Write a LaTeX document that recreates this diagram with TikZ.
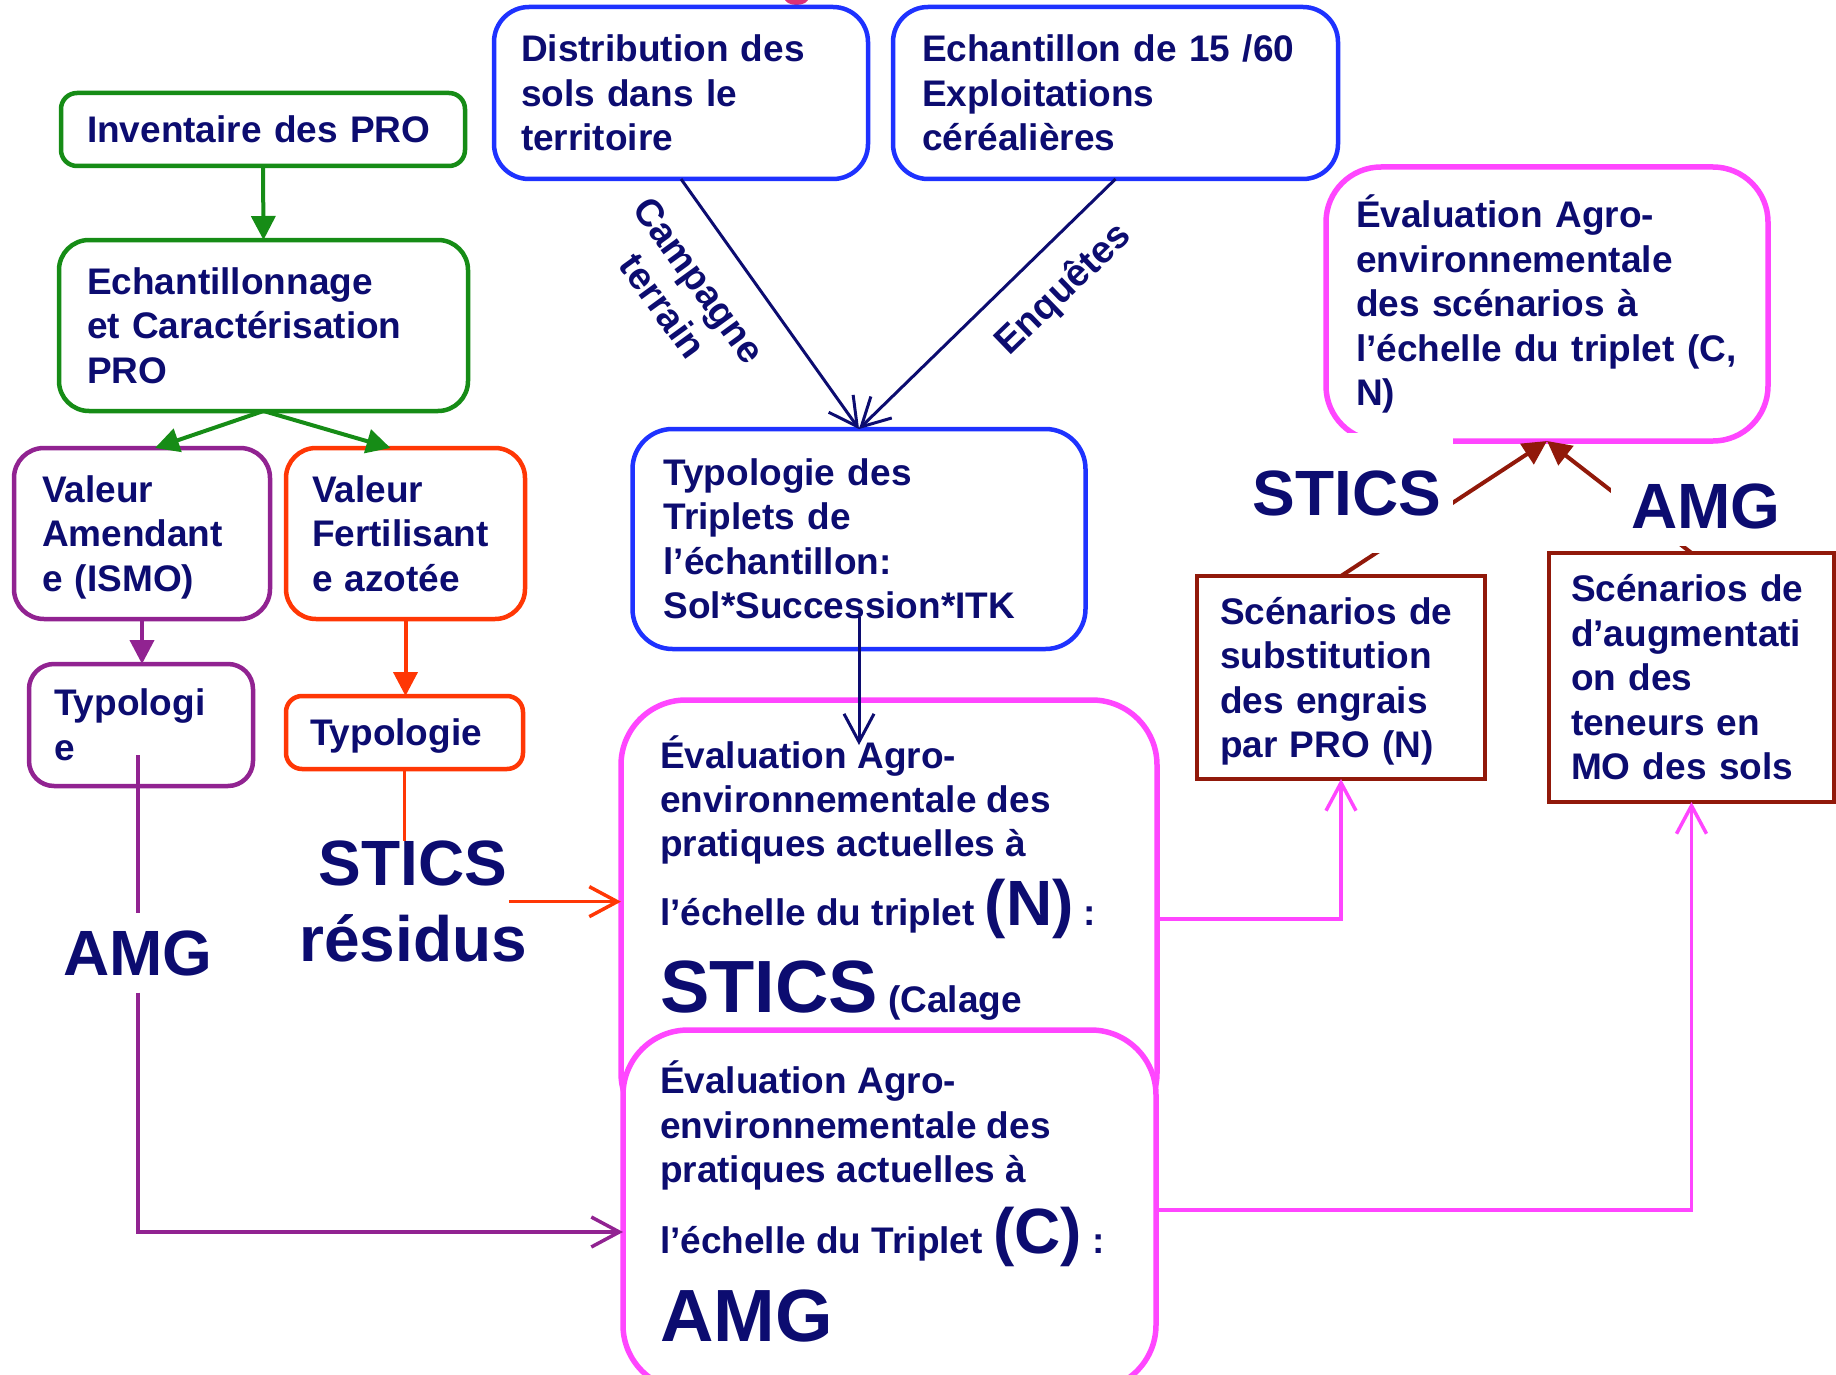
\documentclass[tikz,border=0pt]{standalone}
\usepackage{fontspec}
\setmainfont{Liberation Sans}
\usetikzlibrary{arrows.meta,calc}

\definecolor{navy}{RGB}{12,12,112}
\definecolor{pgreen}{RGB}{22,140,22}
\definecolor{ppurple}{RGB}{145,35,145}
\definecolor{pred}{RGB}{255,55,5}
\definecolor{pblue}{RGB}{30,50,255}
\definecolor{pmag}{RGB}{255,70,255}
\definecolor{pdred}{RGB}{145,25,10}
\definecolor{pdot}{RGB}{220,50,120}

\newcommand\bodyf{\fontsize{37}{44.5}\selectfont\bfseries}
\newcommand\labf{\fontsize{38}{44.5}\selectfont\bfseries}
\newcommand\bigf{\fontsize{64}{76}\selectfont\bfseries}
\newcommand\hugef{\fontsize{74}{80}\selectfont\bfseries}
\newcommand\parf{\fontsize{64}{64}\selectfont\bfseries}

\begin{document}
\begin{tikzpicture}[x=1pt,y=-1pt,
  every node/.style={outer sep=0pt},
  txt/.style={font=\bodyf, text=navy},
  line/.style={txt, anchor=base west, inner sep=0pt},
  panel/.style={txt, draw, fill=white, align=left, inner ysep=0pt, line width=4.5pt},
  greenpanel/.style={panel, draw=pgreen},
  purplepanel/.style={panel, draw=ppurple},
  redpanel/.style={panel, draw=pred},
  bluepanel/.style={panel, draw=pblue},
  magpanel/.style={panel, draw=pmag, line width=5.5pt},
  darkpanel/.style={panel, draw=pdred},
  bigword/.style={txt, font=\bigf},
  farrow/.style={-{Triangle[length=24pt,width=24pt]}},
  oarrow/.style={-{Straight Barb[length=28pt,width=30pt]}},
]
\useasboundingbox (0,0) rectangle (1836,1375);

% small mark peeking above the top row
\fill[pdot] (796.5,-2) ellipse [x radius=12pt, y radius=7pt];

% left column: PRO chain
\node[greenpanel, rounded corners=16pt, text width=352pt, inner xsep=26pt, minimum height=73pt] (inv) at (263,129.5) {Inventaire des PRO};
\node[greenpanel, rounded corners=30pt, text width=353pt, inner xsep=28pt, minimum height=171pt] (ech) at (263.5,325.5) {Echantillonnage\\et Caractérisation\\PRO};
\node[purplepanel, rounded corners=30pt, text width=200pt, inner xsep=28pt, minimum height=171pt] (vam) at (142,533.5) {Valeur\\Amendant\\e \smash{(ISMO)}};
\node[redpanel, rounded corners=30pt, text width=187pt, inner xsep=26pt, minimum height=171pt] (vfe) at (405.5,533.5) {Valeur\\Fertilisant\\e azotée};
\node[purplepanel, rounded corners=25pt, text width=174pt, inner xsep=25pt, minimum height=122pt] (typP) at (141,725) {Typologi\\e};
\node[redpanel, rounded corners=16pt, text width=189pt, inner xsep=24pt, minimum height=73pt, text depth=0pt] (typR) at (404.5,732.5) {Typologie};

% top row and triplets
\node[bluepanel, rounded corners=35pt, text width=320pt, inner xsep=27pt, minimum height=172pt] (dist) at (681,93) {Distribution des\\sols dans le\\territoire};
\node[bluepanel, rounded corners=35pt, text width=387pt, inner xsep=29pt, minimum height=172pt] (echx) at (1115.5,93) {Echantillon de 15 /60\\Exploitations\\céréalières};
\node[bluepanel, rounded corners=40pt, text width=391pt, inner xsep=31pt, minimum height=220pt] (trip) at (859,539) {Typologie des\\Triplets de\\l’échantillon:\\Sol*Succession*ITK};

% right part: scenarios
\node[magpanel, rounded corners=55pt, text width=382pt, inner xsep=30pt, minimum height=274pt] (evS) at (1547,304) {Évaluation Agro-\\environnementale\\des scénarios à\\l’échelle du triplet (C,\\N)};
\node[darkpanel, text width=242pt, inner xsep=23pt, minimum height=203pt] (sub) at (1341,677.5) {Scénarios de\\substitution\\des engrais\\\smash{par PRO (N)}};
\node[darkpanel, text width=241pt, inner xsep=22pt, minimum height=249pt] (aug) at (1691.5,677.5) {Scénarios de\\d’augmentati\\on des\\teneurs en\\MO des sols};

% evaluation of current practices (N), then (C) on top
\node[magpanel, rounded corners=65pt, minimum width=536pt, minimum height=438pt] (evN) at (889,919) {};
\node[line] (nA) at (660,768) {Évaluation Agro-};
\node[line] (nB) at (660,812) {environnementale des};
\node[line] (nC) at (660,856) {pratiques actuelles à};
\node[line] (nD) at (660,925) {l’échelle du triplet {\parf(N)} :};
\node[line] (nE) at (660,1012) {{\hugef STICS} (Calage};

\node[magpanel, rounded corners=65pt, minimum width=533pt, minimum height=360pt] (evC) at (889.5,1210) {};
\node[line] (cA) at (660,1093) {Évaluation Agro-};
\node[line] (cB) at (660,1138) {environnementale des};
\node[line] (cC) at (660,1182) {pratiques actuelles à};
\node[line] (cD) at (660,1253) {l’échelle du Triplet {\parf(C)} :};
\node[line] (cE) at (660,1341) {{\hugef AMG}};

% model names on the left
\node[bigword, align=center, inner sep=0pt, anchor=north] (stres) at (413,841) {STICS\\résidus};
\node[bigword, inner xsep=20pt, inner ysep=17pt, anchor=base] (amL) at (138,975) {AMG};
\coordinate (tpin) at (138,755);

% connectors
\begin{scope}[line width=4pt]
\draw[pgreen, farrow] (inv.south) -- (ech.north);
\draw[pgreen, farrow] (ech.south) -- ([xshift=13pt]vam.north);
\draw[pgreen, farrow] (ech.south) -- ([xshift=-15pt]vfe.north);
\draw[ppurple, farrow] (vam.south) -- (vam.south |- typP.north);
\draw[pred, farrow] (vfe.south) -- (vfe.south |- typR.north);
\end{scope}

\begin{scope}[line width=3pt]
\draw[navy, oarrow] (dist.south) -- (trip.north);
\draw[navy, oarrow] (echx.south) -- (trip.north);
\draw[navy, oarrow] ($(trip.south)+(0,-32)$) -- ($(trip.south |- evN.north)+(0,45)$);
\draw[pred, line width=3.5pt] (typR.south) -- (typR.south |- stres.north);
\draw[pred, line width=3.5pt, oarrow] ($(stres.east)+(-18,0)$) -- (stres.east -| evN.west);
\draw[ppurple, line width=3.5pt] (tpin) -- (amL.north);
\draw[ppurple, line width=3.5pt, oarrow] (amL.south) |- ($(evC.west)+(0,22)$);
\draw[pmag, line width=3.5pt, oarrow] (evN.east) -| (sub.south);
\draw[pmag, line width=3.5pt, oarrow] (evC.east) -| (aug.south);
\end{scope}

\draw[pdred, line width=4pt, farrow] (sub.north) -- (evS.south);
\draw[pdred, line width=4pt, farrow] (aug.north) -- (evS.south);

% model names on the right, over the lines
\node[bigword, fill=white, inner xsep=12pt, inner ysep=37pt, anchor=base] (stR) at (1347,515) {STICS};
\node[bigword, fill=white, inner xsep=20pt, inner ysep=17pt, anchor=base] (amR) at (1706,528) {AMG};

% connector labels
\node[txt, font=\labf, align=center, rotate=-54, inner sep=0pt] (lblA) at (681,293) {Campagne\\terrain};
\node[txt, font=\labf, rotate=44, inner sep=0pt] (lblB) at (1064,290) {Enquêtes};
\end{tikzpicture}
\end{document}
